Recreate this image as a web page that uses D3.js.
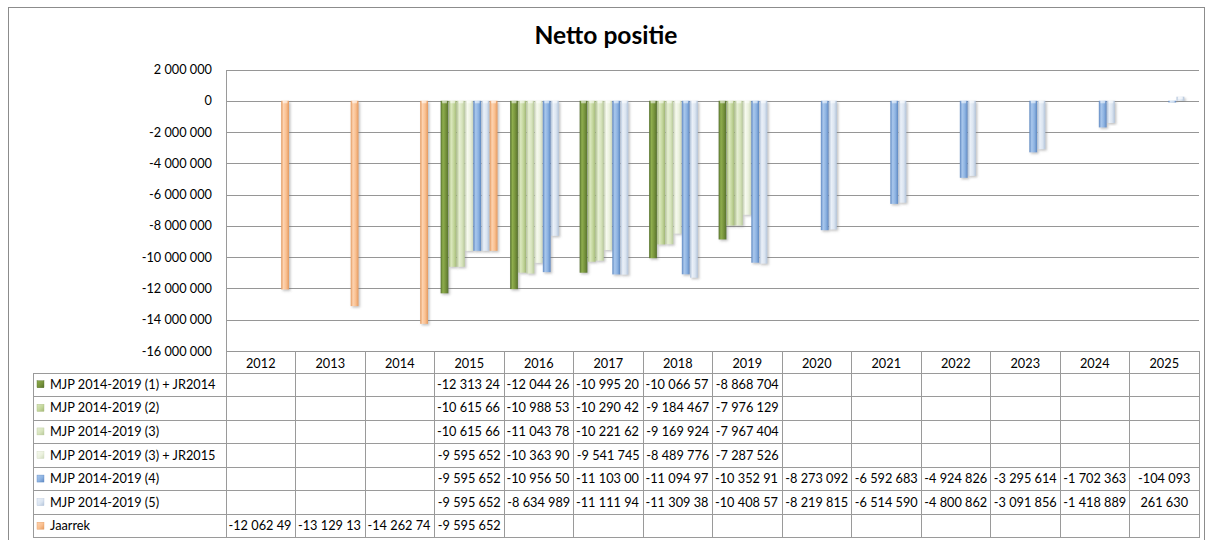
<!DOCTYPE html>
<html><head><meta charset="utf-8">
<script src="https://cdn.jsdelivr.net/npm/d3@7"></script>
<style>body{margin:0;background:#fff}svg{display:block}</style>
</head><body>
<svg id="c" width="1213" height="540"></svg>
<script>
// ---------- data ----------
const categories = ["2012","2013","2014","2015","2016","2017","2018","2019","2020","2021","2022","2023","2024","2025"];
const seriesNames = ["MJP 2014-2019 (1) + JR2014","MJP 2014-2019 (2)","MJP 2014-2019 (3)","MJP 2014-2019 (3) + JR2015","MJP 2014-2019 (4)","MJP 2014-2019 (5)","Jaarrek"];
const mjp1 = [null,null,null,-12313240,-12044260,-10995200,-10066570,-8868704,null,null,null,null,null,null];
const mjp2 = [null,null,null,-10615660,-10988530,-10290420,-9184467,-7976129,null,null,null,null,null,null];
const mjp3 = [null,null,null,-10615660,-11043780,-10221620,-9169924,-7967404,null,null,null,null,null,null];
const mjp3jr = [null,null,null,-9595652,-10363900,-9541745,-8489776,-7287526,null,null,null,null,null,null];
const mjp4 = [null,null,null,-9595652,-10956500,-11103000,-11094970,-10352910,-8273092,-6592683,-4924826,-3295614,-1702363,-104093];
const mjp5 = [null,null,null,-9595652,-8634989,-11111940,-11309380,-10408570,-8219815,-6514590,-4800862,-3091856,-1418889,261630];
const jaarrek = [-12062490,-13129130,-14262740,-9595652,null,null,null,null,null,null,null,null,null,null];
const yTicks = [2000000,0,-2000000,-4000000,-6000000,-8000000,-10000000,-12000000,-14000000,-16000000];
const title = "Netto positie";

const seriesValues = [mjp1,mjp2,mjp3,mjp3jr,mjp4,mjp5,jaarrek];
// colours: [edge, highlight, base]
const palette = [
  ["#55702a","#8fae4e","#77933c"],
  ["#a3b877","#dbe8bf","#c3d69b"],
  ["#b8c99a","#e6eed4","#d7e4bd"],
  ["#cfd9bd","#f6f9ef","#ebf1de"],
  ["#5f89c2","#a9c7ec","#8db3e2"],
  ["#b3c4da","#eaf0f8","#dbe5f1"],
  ["#e39a5f","#fdd3b0","#fac090"]
];

// ---------- layout ----------
const L = 226, R = 1199, T = 69.5, B = 351;
const tableLeft = 33, headerBottom = 373, rowH = 23.57;
const fontFamily = "Lato, 'Open Sans', sans-serif";
const svg = d3.select("#c");
const fmt = d3.formatLocale({decimal:",",thousands:" ",grouping:[3],currency:["",""],minus:"-"}).format(",.0f");

const meas = svg.append("text").attr("font-family", fontFamily).attr("font-size", 100).attr("x",-9999).attr("y",-9999);
function width(str, size, weight){ meas.attr("font-size", size).attr("font-weight", weight||"normal").text(str); return meas.node().getComputedTextLength(); }
const fs = 100 * 63 / width("-9 595 652", 100);
const titleFs = 100 * 143 / width(title, 100, "bold");

const defs = svg.append("defs");
palette.forEach((p,i)=>{
  const g = defs.append("linearGradient").attr("id","g"+i).attr("x1",0).attr("x2",1).attr("y1",0).attr("y2",0);
  g.append("stop").attr("offset","0%").attr("stop-color",p[0]);
  g.append("stop").attr("offset","30%").attr("stop-color",p[1]);
  g.append("stop").attr("offset","65%").attr("stop-color",p[2]);
  g.append("stop").attr("offset","100%").attr("stop-color",p[0]);
  const s = defs.append("linearGradient").attr("id","sw"+i).attr("x1",0).attr("x2",1).attr("y1",0).attr("y2",1);
  s.append("stop").attr("offset","0%").attr("stop-color",p[1]);
  s.append("stop").attr("offset","55%").attr("stop-color",p[2]);
  s.append("stop").attr("offset","100%").attr("stop-color",p[0]);
});
const f = defs.append("filter").attr("id","sh").attr("x","-50%").attr("y","-10%").attr("width","200%").attr("height","120%");
f.append("feDropShadow").attr("dx",1.5).attr("dy",1.5).attr("stdDeviation",1).attr("flood-color","#777").attr("flood-opacity",0.45);

// outer border
svg.append("rect").attr("x",8.5).attr("y",7.5).attr("width",1196).attr("height",600).attr("fill","#fff").attr("stroke","#8c8c8c");

// title
svg.append("text").attr("x",606).attr("y",44).attr("text-anchor","middle").attr("font-family",fontFamily)
  .attr("font-weight","bold").attr("font-size",titleFs).attr("fill","#000").text(title);

// scales
const x = d3.scaleBand().domain(categories).range([L,R]);
const xs = d3.scaleBand().domain(d3.range(seriesNames.length)).range([0,x.bandwidth()]).paddingOuter(0.75).paddingInner(0);
const y = d3.scaleLinear().domain([-16000000,2000000]).range([B,T]);

// gridlines
svg.append("g").attr("transform",`translate(${L},0)`)
  .call(d3.axisLeft(y).tickValues(yTicks).tickSize(-(R-L)).tickFormat(""))
  .call(g=>g.select(".domain").remove())
  .call(g=>g.selectAll("line").attr("stroke","#969696").attr("shape-rendering","crispEdges"));
// y labels
svg.append("g").attr("transform",`translate(${L},0)`)
  .call(d3.axisLeft(y).tickValues(yTicks).tickSize(0).tickPadding(14).tickFormat(fmt))
  .call(g=>g.select(".domain").remove())
  .call(g=>g.selectAll("text").attr("font-family",fontFamily).attr("font-size",fs).attr("fill","#000"));

// bars
const barG = svg.append("g");
seriesValues.forEach((vals,i)=>{
  const data = categories.map((c,j)=>({c, v: vals[j]})).filter(d=>d.v!==null);
  const bw = xs.bandwidth()-0.4;
  const gg = barG.append("g");
  gg.selectAll("rect.bar").data(data).join("rect").attr("class","bar")
    .attr("x",d=>x(d.c)+xs(i)).attr("width",bw)
    .attr("y",d=>Math.min(y(d.v),y(0))).attr("height",d=>Math.abs(y(d.v)-y(0)))
    .attr("fill",`url(#g${i})`).attr("filter","url(#sh)");
  gg.selectAll("rect.cap").data(data).join("rect").attr("class","cap")
    .attr("x",d=>x(d.c)+xs(i)+1.5).attr("width",Math.max(bw-3,1))
    .attr("y",d=> d.v<0 ? y(0) : y(d.v)).attr("height",d=>Math.min(2.5,Math.abs(y(d.v)-y(0))))
    .attr("fill","#fff").attr("opacity",0.55);
});

// table lines
const lineC = "#9a9a9a";
const tbl = svg.append("g").attr("shape-rendering","crispEdges").attr("stroke",lineC);
const tableBottom = headerBottom + rowH*seriesNames.length;
tbl.append("line").attr("x1",L).attr("x2",L).attr("y1",T).attr("y2",tableBottom);
categories.forEach((c)=>{
  const xr = x(c)+x.bandwidth();
  tbl.append("line").attr("x1",xr).attr("x2",xr).attr("y1",B).attr("y2",tableBottom);
});
tbl.append("line").attr("x1",tableLeft).attr("x2",tableLeft).attr("y1",headerBottom).attr("y2",tableBottom);
for(let k=0;k<=seriesNames.length;k++){
  const yy = headerBottom + k*rowH;
  tbl.append("line").attr("x1",tableLeft).attr("x2",R).attr("y1",yy).attr("y2",yy);
}

// header years
svg.append("g").selectAll("text").data(categories).join("text")
  .attr("x",d=>x(d)+x.bandwidth()/2).attr("y",367.5).attr("text-anchor","middle")
  .attr("font-family",fontFamily).attr("font-size",fs).attr("fill","#000").text(d=>d);

// rows
seriesNames.forEach((name,i)=>{
  const top = headerBottom + i*rowH;
  const base = top + 15.8;
  svg.append("rect").attr("x",37).attr("y",top+rowH/2-4).attr("width",7).attr("height",7)
    .attr("fill",`url(#sw${i})`).attr("stroke",palette[i][0]).attr("stroke-width",0.4);
  svg.append("text").attr("x",50).attr("y",base).attr("font-family",fontFamily).attr("font-size",fs).attr("fill","#000").text(name);
  seriesValues[i].forEach((v,j)=>{
    if(v===null) return;
    let s = fmt(v);
    const avail = x.bandwidth()-3;
    let anchor = "middle", tx = x(categories[j])+x.bandwidth()/2;
    if(width(s,fs) > avail){
      while(s.length>1 && width(s,fs) > avail) s = s.slice(0,-1);
      anchor = "start"; tx = x(categories[j])+2.5;
    }
    svg.append("text").attr("x",tx).attr("y",base).attr("text-anchor",anchor)
      .attr("font-family",fontFamily).attr("font-size",fs).attr("fill","#000").text(s);
  });
});
meas.remove();
</script>
</body></html>
